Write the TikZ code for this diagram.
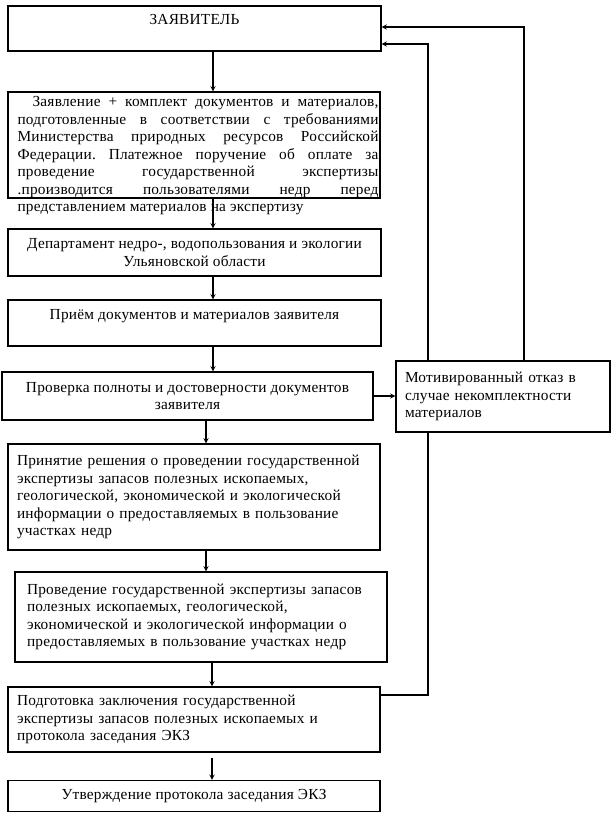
\documentclass[tikz,border=0pt]{standalone}
\usepackage{fontspec}
\setmainfont[LetterSpace=1.5]{Liberation Serif}
\usepackage{tikz}

\begin{document}
\begin{tikzpicture}[x=0.75pt, y=-0.75pt, >=stealth, line width=0.8pt,
  box/.style={draw, rectangle, inner sep=0pt, fill=white, font=\fontsize{11.5}{13.1}\selectfont},
  cbox/.style={box, align=center},
  lbox/.style={box, align=left, inner xsep=6.75pt}]
  \useasboundingbox (0,0) rectangle (615,829);

  % Main column
  \node[cbox, minimum width=279.75pt, minimum height=33.75pt] (zayav) at (194.5,28.5) {ЗАЯВИТЕЛЬ\\ ~};
  \node[box, minimum width=279pt, minimum height=79.5pt] (app) at (194,145) {};
  \node[anchor=north west, inner sep=0pt, text width=270.75pt, align=justify, font=\fontsize{11.5}{13.1}\selectfont\frenchspacing] (apptxt) at (17,96)
    {\hspace*{11.25pt}Заявление + комплект документов и материалов,\linebreak
     подготовленные в соответствии с требованиями\linebreak
     Министерства природных ресурсов Российской\linebreak
     Федерации. Платежное поручение об оплате за\linebreak
     проведение государственной экспертизы\linebreak
     .производится пользователями недр перед\linebreak
     представлением материалов на экспертизу};
  \node[cbox, minimum width=279.75pt, minimum height=35.25pt] (dept) at (194.5,252.5)
    {Департамент недро-, водопользования и экологии\\ Ульяновской области};
  \node[cbox, minimum width=279.75pt, minimum height=34.5pt] (priem) at (194.5,323)
    {Приём документов и материалов заявителя\\ ~};
  \node[cbox, minimum width=278.25pt, minimum height=36pt] (check) at (187.5,396)
    {Проверка полноты и достоверности документов\\ заявителя};
  \node[lbox, text width=265.5pt, minimum height=79.5pt] (decide) at (194,497)
    {Принятие решения о проведении государственной\\ экспертизы запасов полезных ископаемых,\\ геологической, экономической и экологической\\ информации о предоставляемых в пользование\\ участках недр};
  \node[lbox, inner xsep=9pt, text width=261pt, minimum height=67.5pt] (exam) at (201,617)
    {Проведение государственной экспертизы запасов\\ полезных ископаемых, геологической,\\ экономической и экологической информации о\\ предоставляемых в пользование участках недр};
  \node[lbox, text width=265.5pt, minimum height=48.75pt] (concl) at (194,719.5)
    {Подготовка заключения государственной\\ экспертизы запасов полезных ископаемых и\\ протокола заседания ЭКЗ};
  \node[cbox, minimum width=279pt, minimum height=23.25pt] (approve) at (194,796)
    {Утверждение протокола заседания ЭКЗ};

  % Arrows down
  \draw[->] (zayav.south -| 213,0) -- (app.north -| 213,0);
  \draw[->] (app.south -| 213,0) -- (dept.north -| 213,0);
  \draw[->] (dept.south -| 213,0) -- (priem.north -| 213,0);
  \draw[->] (priem.south -| 213,0) -- (check.north -| 213,0);
  \draw[->] (check.south -| 206,0) -- (decide.north -| 206,0);
  \draw[->] (decide.south -| 206,0) -- (exam.north -| 206,0);
  \draw[->] (exam.south -| 212,0) -- (concl.north -| 212,0);
  \draw[->, shorten <=3.75pt] (concl.south -| 212,0) -- (approve.north -| 212,0);

  % Return to applicant
  \draw[->] (concl.east |- 0,695) -| (428,44) -- (zayav.east |- 0,44);

  % Refusal
  \node[lbox, text width=147pt, minimum height=53.25pt] (refuse) at (503,396.5)
    {Мотивированный отказ в\\ случае некомплектности\\ материалов};
  \draw[->] (check.east) -- (check.east -| refuse.west);
  \draw[->] (refuse.north -| 524,0) |- (zayav.east |- 0,27);
\end{tikzpicture}
\end{document}
